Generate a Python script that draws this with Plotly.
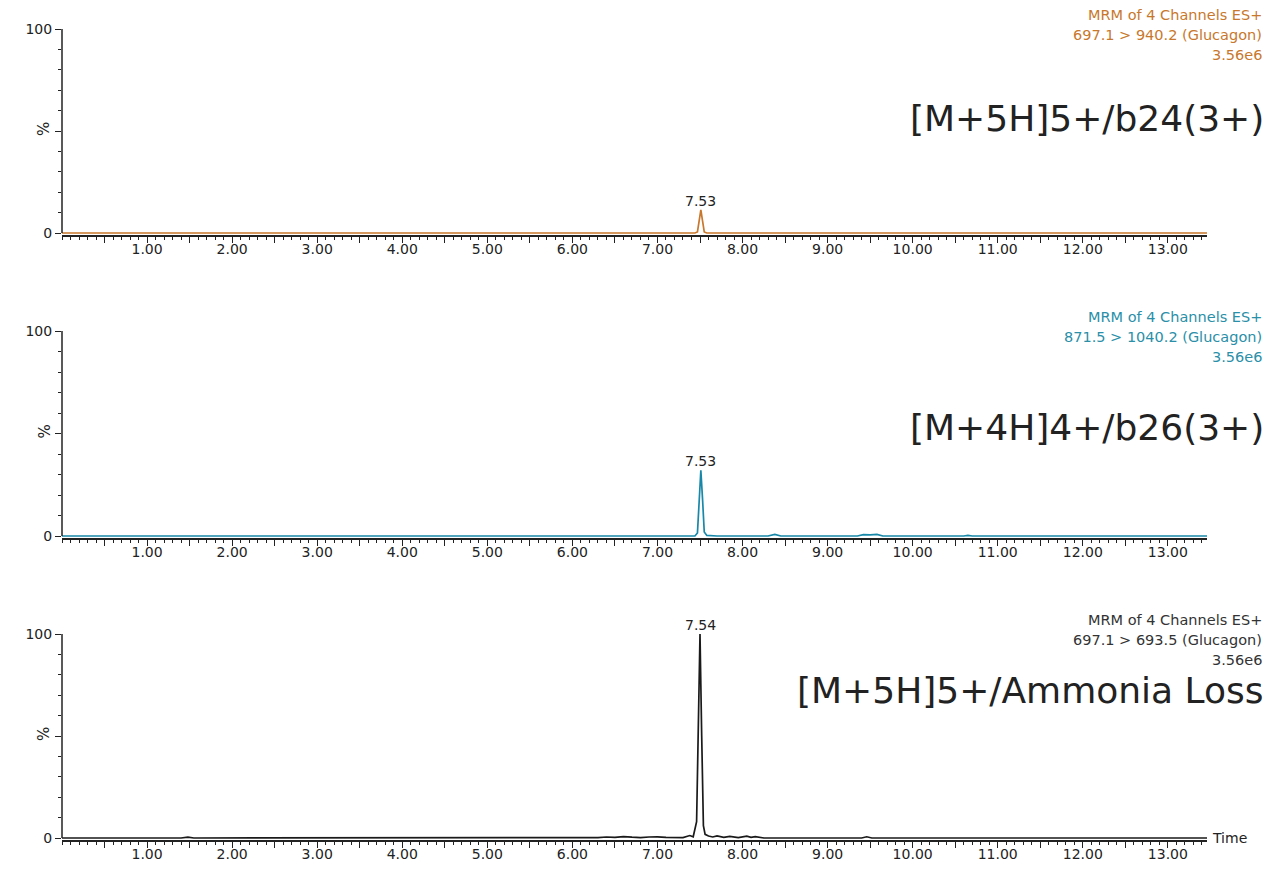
import plotly.graph_objects as go

OFF = 8  # browser body margin
W, H = 1264, 861
FONT = "DejaVu Sans"

# ---- data ----
t_glu1 = [0.00, 7.44, 7.47, 7.49, 7.51, 7.53, 7.55, 7.58, 13.46]
v_glu1 = [0.0, 0.0, 0.5, 6.0, 11.3, 6.0, 0.5, 0.0, 0.0]

t_glu2 = [0.00, 7.00, 7.44, 7.47, 7.49, 7.51, 7.53, 7.55, 7.58, 7.70, 8.30, 8.38, 8.45,
          9.35, 9.42, 9.50, 9.58, 9.65, 10.60, 10.65, 10.70, 13.46]
v_glu2 = [0.0, 0.0, 0.0, 1.5, 18.0, 32.0, 18.0, 2.0, 0.3, 0.0, 0.0, 0.8, 0.0,
          0.0, 0.7, 0.5, 0.8, 0.0, 0.0, 0.3, 0.0, 0.0]

t_glu3 = [0.00, 1.40, 1.48, 1.55, 6.30, 6.40, 6.50, 6.60, 6.70, 6.80, 6.90, 7.00, 7.10,
          7.20, 7.30, 7.38, 7.42, 7.46, 7.48, 7.50, 7.52, 7.54, 7.56, 7.60, 7.65, 7.70,
          7.78, 7.85, 7.95, 8.05, 8.10, 8.15, 8.25, 9.40, 9.46, 9.52, 13.46]
v_glu3 = [0.0, 0.0, 0.4, 0.0, 0.2, 0.5, 0.3, 0.7, 0.4, 0.2, 0.5, 0.6, 0.3,
          0.4, 0.2, 1.2, 0.6, 8.0, 50.0, 100.0, 50.0, 6.0, 1.8, 1.0, 0.5, 1.0,
          0.3, 0.8, 0.2, 0.9, 0.3, 0.7, 0.0, 0.0, 0.6, 0.0, 0.0]

peak_times = [7.53, 7.53, 7.54]
peak_pos = [7.51, 7.51, 7.50]
peak_heights = [11.3, 32.0, 100.0]
channels = ["697.1 > 940.2 (Glucagon)", "871.5 > 1040.2 (Glucagon)", "697.1 > 693.5 (Glucagon)"]
intensity = ["3.56e6", "3.56e6", "3.56e6"]
big_labels = ["[M+5H]5+/b24(3+)", "[M+4H]4+/b26(3+)", "[M+5H]5+/Ammonia Loss"]
colors = ["#c8782c", "#1888a8", "#1a1a1a"]
text_colors = ["#c8782c", "#2a8fa8", "#333333"]

x_ticks = [i * 0.5 for i in range(1, 27)]
x_text = [f"{v:.2f}" if v == int(v) else "" for v in x_ticks]

series_t = [t_glu1, t_glu2, t_glu3]
series_v = [v_glu1, v_glu2, v_glu3]


def px(x):
    return (x - OFF) / W


def py(y):
    return 1 - (y - OFF) / H


# page-pixel geometry of panels (y of 0 and 100)
zero_px = [233, 536, 838]
hund_px = [29, 331, 634]
x_left, x_right = 62, 1207
ymin, ymax = -1.0, 101.0

fig = go.Figure()
for i in range(3):
    ax = "" if i == 0 else str(i + 1)
    fig.add_trace(go.Scatter(x=series_t[i], y=series_v[i], mode="lines",
                             line=dict(color=colors[i], width=1.7),
                             xaxis="x" + ax, yaxis="y" + ax, showlegend=False,
                             hoverinfo="skip"))
    ppu = (zero_px[i] - hund_px[i]) / 100.0
    top = hund_px[i] - (ymax - 100) * ppu
    bot = zero_px[i] - (ymin) * ppu
    dom_y = [py(bot), py(top)]
    xa = dict(domain=[px(x_left), px(x_right)], range=[0, 13.46], anchor="y" + ax,
              showline=True, linecolor="#222222", linewidth=1.5,
              ticks="outside", ticklen=6, tickwidth=1.3, tickcolor="#222222",
              tickvals=x_ticks, ticktext=x_text, showgrid=False, zeroline=False,
              tickfont=dict(family=FONT, size=14, color="#222222"),
              ticklabelstandoff=-6,
              minor=dict(ticks="outside", ticklen=3, tickwidth=1, tickcolor="#222222",
                         tick0=0, dtick=0.1, showgrid=False),
              automargin=False, layer="below traces", fixedrange=True)
    ya = dict(domain=dom_y, range=[ymin, ymax], anchor="x" + ax,
              showline=False, ticks="outside", ticklen=6, tickwidth=1.3,
              tickcolor="#222222", tickvals=[0, 50, 100], ticktext=["0", "", "100"],
              tickfont=dict(family=FONT, size=14, color="#222222"),
              minor=dict(ticks="outside", ticklen=3, tickwidth=1, tickcolor="#222222",
                         tickvals=[10, 20, 30, 40, 60, 70, 80, 90], showgrid=False),
              showgrid=False, zeroline=False, automargin=False, fixedrange=True)
    fig.layout["xaxis" + ax] = xa
    fig.layout["yaxis" + ax] = ya
    # y axis line from 0 to 100
    fig.add_shape(type="line", xref="x" + ax + " domain", yref="y" + ax,
                  x0=0, x1=0, y0=0, y1=100, line=dict(color="#222222", width=1.5))
    # % label
    fig.add_annotation(x=px(44), y=py((zero_px[i] + hund_px[i]) / 2 - 2),
                       xref="paper", yref="paper", text="%", textangle=-90,
                       xanchor="center", yanchor="middle",
                       showarrow=False, font=dict(family=FONT, size=15, color="#222222"))
    # peak label
    fig.add_annotation(x=peak_pos[i], y=peak_heights[i], xref="x" + ax, yref="y" + ax,
                       text=f"{peak_times[i]:.2f}", showarrow=False, yanchor="bottom",
                       yshift=-1, font=dict(family=FONT, size=14, color="#222222"))
    # channel info
    lines = ["MRM of 4 Channels ES+", channels[i], intensity[i]]
    for k, ln in enumerate(lines):
        fig.add_annotation(x=px(1264), y=py(hund_px[i] - 14 + 20 * k),
                           xref="paper", yref="paper", text=ln, showarrow=False,
                           xanchor="right", yanchor="middle",
                           font=dict(family=FONT, size=14.5, color=text_colors[i]))
    big_y = [118, 427, 690][i]
    fig.add_annotation(x=px(1266), y=py(big_y), xref="paper", yref="paper",
                       text=big_labels[i], showarrow=False, xanchor="right",
                       yanchor="middle", font=dict(family=FONT, size=36, color="#222222"))

fig.add_annotation(x=px(1210), y=py(838), xref="paper", yref="paper", text="Time",
                   showarrow=False, xanchor="left", yanchor="middle",
                   font=dict(family=FONT, size=14, color="#222222"))

fig.update_layout(width=W, height=H, margin=dict(l=0, r=0, t=0, b=0),
                  paper_bgcolor="white", plot_bgcolor="white", template="none",
                  showlegend=False)
fig.write_html("out.html")
